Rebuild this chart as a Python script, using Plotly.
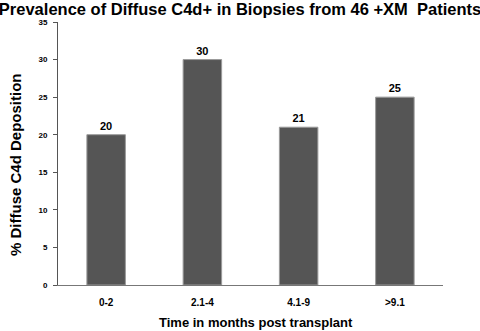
import plotly.graph_objects as go

categories = ["0-2", "2.1-4", "4.1-9", ">9.1"]
values = [20, 30, 21, 25]
y_ticks = [0, 5, 10, 15, 20, 25, 30, 35]

W, H = 480, 331
fig = go.Figure(go.Bar(
    x=categories, y=values,
    text=["<b>%d</b>" % v for v in values], textposition="outside",
    textfont=dict(family="Liberation Sans, Arial", size=11, color="black"),
    marker=dict(color="#555555", line=dict(color="#9a9a9a", width=1)),
    cliponaxis=False,
))
fig.update_layout(
    width=W, height=H,
    margin=dict(l=58, r=37, t=22, b=46, autoexpand=False),
    paper_bgcolor="white", plot_bgcolor="white",
    bargap=0.6,
    showlegend=False,
    title=dict(text="<b>Prevalence of Diffuse C4d+ in Biopsies from 46 +XM  Patients</b>",
               x=0.5, xanchor="center", y=1 - 9.5 / H, yanchor="middle",
               font=dict(family="Liberation Sans, Arial", size=16.5, color="black")),
    font=dict(family="Liberation Sans, Arial", color="black"),
    annotations=[
        dict(text="<b>Time in months post transplant</b>", xref="paper", yref="paper",
             x=(256 - 58) / 385, y=-(322 - 285) / 263, xanchor="center", yanchor="middle",
             showarrow=False, font=dict(size=13, color="black")),
        dict(text="<b>% Diffuse C4d Deposition</b>", xref="paper", yref="paper",
             x=-(58 - 15) / 385, y=(285 - 165) / 263, xanchor="center", yanchor="middle",
             textangle=-90, showarrow=False, font=dict(size=15, color="black")),
    ],
)
fig.update_xaxes(
    automargin=False,
    showline=True, linecolor="#777777", linewidth=1,
    ticks="outside", ticklen=8, tickcolor="rgba(0,0,0,0)",
    tickfont=dict(size=10, color="black", weight="bold"),
    showgrid=False,
)
fig.update_yaxes(
    automargin=False,
    range=[0, 35], tickvals=y_ticks,
    showline=True, linecolor="#555555", linewidth=1,
    ticks="outside", ticklen=4, tickcolor="#555555",
    ticklabelstandoff=4,
    tickfont=dict(size=8, color="black", weight="bold"),
    showgrid=False, zeroline=False,
)
fig.write_html("out.html")
